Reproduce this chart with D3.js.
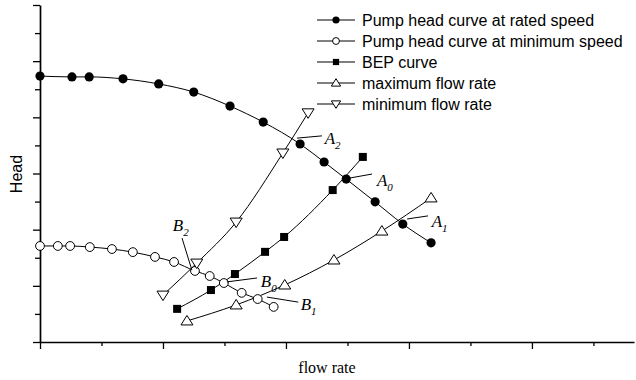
<!DOCTYPE html>
<html><head><meta charset="utf-8">
<script src="https://cdn.jsdelivr.net/npm/d3@7"></script>
<style>html,body{margin:0;padding:0;background:#fff;}svg{display:block;}</style>
</head><body>
<svg id="chart" width="636" height="380"></svg>
<script>
// ---- data (axis units) ----
const ratedX = [0, 0.52, 0.80, 1.35, 1.93, 2.50, 3.09, 3.63, 4.23, 4.62, 4.98, 5.45, 5.90, 6.36];
const ratedY = [9.47, 9.44, 9.44, 9.37, 9.19, 8.90, 8.40, 7.83, 7.05, 6.41, 5.80, 4.99, 4.20, 3.53];
const minSpeedX = [0, 0.29, 0.49, 0.81, 1.17, 1.51, 1.87, 2.18, 2.52, 2.76, 2.99, 3.28, 3.54, 3.80];
const minSpeedY = [3.42, 3.42, 3.42, 3.38, 3.31, 3.20, 3.03, 2.85, 2.53, 2.35, 2.10, 1.75, 1.53, 1.25];
const bepX = [2.23, 2.78, 3.17, 3.66, 3.97, 4.76, 5.25];
const bepY = [1.18, 1.85, 2.42, 3.21, 3.74, 5.41, 6.59];
const maxFlowX = [2.39, 3.19, 3.98, 4.78, 5.56, 6.36];
const maxFlowY = [0.75, 1.32, 2.03, 2.92, 3.95, 5.13];
const minFlowX = [2.00, 2.55, 3.19, 3.95, 4.36];
const minFlowY = [1.67, 2.81, 4.27, 6.73, 8.16];
const seriesNames = ["Pump head curve at rated speed", "Pump head curve at minimum speed", "BEP curve", "maximum flow rate", "minimum flow rate"];
const xTicks = [0,1,2,3,4,5,6,7,8,9];
const yTicks = [0,1,2,3,4,5,6,7,8,9,10,11,12];
// annotations: label, subscript, leader from (x1,y1) to (x2,y2), text at (tx,ty)
const annLabels = ["A","A","A","B","B","B"];
const annSubs = ["2","0","1","2","0","1"];
const annLeader = [[4.18,7.26,4.585,7.34],[5.04,5.84,5.40,5.98],[5.97,4.38,6.31,4.49],[2.47,2.56,2.31,3.70],[3.04,2.14,3.53,2.28],[3.69,1.60,4.20,1.42]];
const annText = [[4.63,7.05],[5.48,5.56],[6.37,4.10],[2.16,3.95],[3.59,1.96],[4.24,1.14]];

const svg = d3.select("#chart");
const x = d3.scaleLinear().domain([0, 9.66]).range([40, 634]);
const y = d3.scaleLinear().domain([0, 12]).range([342, 5]);

// axes
const xAxis = d3.axisBottom(x).tickValues(xTicks).tickFormat("").tickSizeOuter(0);
const gx = svg.append("g").attr("transform", "translate(0,342)").call(xAxis);
gx.selectAll(".tick line").attr("y2", d => d % 2 === 0 ? 7 : 4);
const yAxis = d3.axisLeft(y).tickValues(yTicks).tickFormat("").tickSizeOuter(0);
const gy = svg.append("g").attr("transform", "translate(40,0)").call(yAxis);
gy.selectAll(".tick line").attr("x2", d => d % 2 === 0 ? -7 : -5);
svg.selectAll(".domain").attr("stroke", "#000").attr("stroke-width", 1.7);
svg.selectAll(".tick line").attr("stroke", "#000").attr("stroke-width", 1.3);

// axis titles
svg.append("text").attr("x", 327).attr("y", 373).attr("text-anchor", "middle")
  .attr("font-family", "Liberation Serif, Times New Roman, serif").attr("font-size", 16).text("flow rate");
svg.append("text").attr("transform", "translate(22,174) rotate(-90)").attr("text-anchor", "middle")
  .attr("font-family", "Liberation Sans, Arial, sans-serif").attr("font-size", 16).text("Head");

const series = [
  {xs: ratedX, ys: ratedY, sym: "circleF"},
  {xs: minSpeedX, ys: minSpeedY, sym: "circleO"},
  {xs: bepX, ys: bepY, sym: "square"},
  {xs: maxFlowX, ys: maxFlowY, sym: "triUp"},
  {xs: minFlowX, ys: minFlowY, sym: "triDown"}
];

const line = d3.line().x(d => x(d[0])).y(d => y(d[1])).curve(d3.curveMonotoneX);
series.forEach(s => {
  const pts = s.xs.map((v, i) => [v, s.ys[i]]);
  svg.append("path").datum(pts).attr("d", line).attr("fill", "none").attr("stroke", "#000").attr("stroke-width", 1);
});

function drawSym(g, sym, cx, cy, scale) {
  const k = scale || 1;
  if (sym === "circleF") g.append("circle").attr("cx", cx).attr("cy", cy).attr("r", 4.6 * k).attr("fill", "#000");
  else if (sym === "circleO") g.append("circle").attr("cx", cx).attr("cy", cy).attr("r", 4.4 * k).attr("fill", "#fff").attr("stroke", "#000").attr("stroke-width", 1);
  else if (sym === "square") g.append("rect").attr("x", cx - 4 * k).attr("y", cy - 4 * k).attr("width", 8 * k).attr("height", 8 * k).attr("fill", "#000");
  else if (sym === "triUp") g.append("path").attr("d", `M${cx},${cy - 5.5 * k}L${cx + 6 * k},${cy + 4 * k}L${cx - 6 * k},${cy + 4 * k}Z`).attr("fill", "#fff").attr("stroke", "#000").attr("stroke-width", 1);
  else if (sym === "triDown") g.append("path").attr("d", `M${cx},${cy + 5.5 * k}L${cx + 6 * k},${cy - 4 * k}L${cx - 6 * k},${cy - 4 * k}Z`).attr("fill", "#fff").attr("stroke", "#000").attr("stroke-width", 1);
}

const gm = svg.append("g");
series.forEach(s => {
  s.xs.forEach((v, i) => drawSym(gm, s.sym, x(v), y(s.ys[i])));
});

// annotations
annLabels.forEach((lab, i) => {
  const L = annLeader[i];
  svg.append("line").attr("x1", x(L[0])).attr("y1", y(L[1])).attr("x2", x(L[2])).attr("y2", y(L[3]))
    .attr("stroke", "#000").attr("stroke-width", 1);
  const t = svg.append("text").attr("x", x(annText[i][0])).attr("y", y(annText[i][1]))
    .attr("font-family", "Liberation Serif, Times New Roman, serif").attr("font-style", "italic").attr("font-size", 17);
  t.append("tspan").text(lab);
  t.append("tspan").attr("dy", 5).attr("font-size", 11).text(annSubs[i]);
});

// legend
const lg = svg.append("g");
seriesNames.forEach((name, i) => {
  const yy = 20 + i * 21;
  lg.append("line").attr("x1", 317).attr("x2", 355).attr("y1", yy).attr("y2", yy).attr("stroke", "#000").attr("stroke-width", 1);
  drawSym(lg, series[i].sym, 336, yy, 0.78);
  lg.append("text").attr("x", 362).attr("y", yy + 5.5).attr("font-family", "Liberation Sans, Arial, sans-serif")
    .attr("font-size", 16).text(name);
});
</script>
</body></html>
